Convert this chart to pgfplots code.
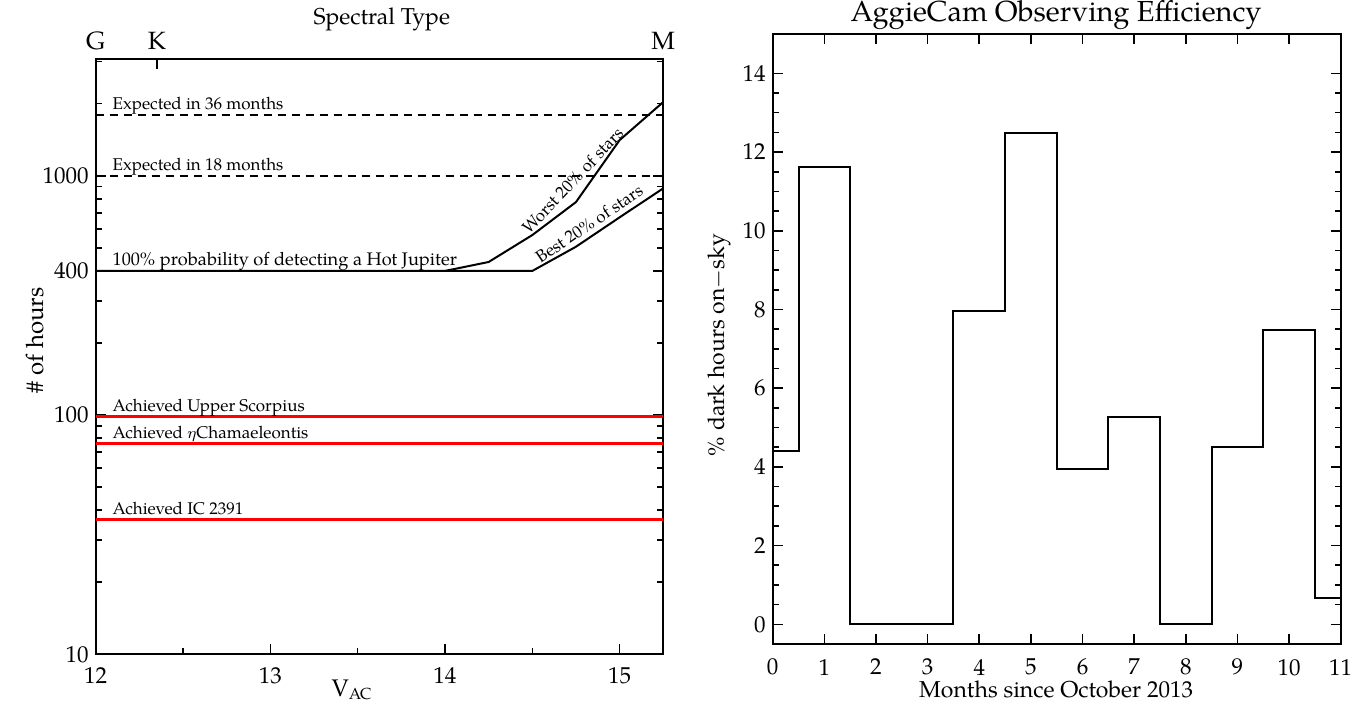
\documentclass[border=0pt]{standalone}
\usepackage{fontspec}
\setmainfont{TeX Gyre Pagella}
\usepackage{pgfplots}
\pgfplotsset{compat=1.18}
\begin{document}
\begin{tikzpicture}[x=1pt,y=1pt]
\path[use as bounding box] (0,0) rectangle (683,357.5);
\pgfplotsset{
  common/.style={
    scale only axis, anchor=south west,
    axis line style={line width=0.9pt},
    tick align=inside,
    every tick/.style={black, line width=0.8pt},
    major tick length=5pt, minor tick length=3pt,
    /pgf/number format/assume math mode=true,
  },
}
% ---------------- left panel ----------------
\begin{axis}[common,
  at={(47.85pt,30.35pt)}, width=283.8pt, height=297.65pt,
  xmin=12, xmax=15.25, ymode=log, ymin=10, ymax=3075,
  xtick={12,13,14,15}, xticklabels={12,13,14,15},
  minor xtick={12.5,13.5,14.5},
  xtick pos=bottom, ytick pos=both,
  ytick={10,100,400,1000}, yticklabels={10,100,400,1000},
  minor ytick={20,30,40,50,60,70,80,90,200,300,500,600,700,800,900,2000,3000},
  tick label style={font=\fontsize{11.5}{13}\selectfont},
  xticklabel style={yshift=-3pt},
  clip=false,
]
\addplot[black, line width=1pt, dash pattern=on 4pt off 3pt] coordinates {(12,1800) (15.25,1800)};
\addplot[black, line width=1pt, dash pattern=on 4pt off 3pt] coordinates {(12,1000) (15.25,1000)};
\addplot[black, line width=1pt] coordinates {(12,400) (14,400) (14.25,436) (14.5,565) (14.75,776) (15,1409) (15.25,2033)};
\addplot[black, line width=1pt] coordinates {(14,400) (14.5,400) (14.75,505) (15,670) (15.25,886)};
\addplot[red, line width=1.5pt] coordinates {(12,98.6) (15.25,98.6)};
\addplot[red, line width=1.5pt] coordinates {(12,76.2) (15.25,76.2)};
\addplot[red, line width=1.5pt] coordinates {(12,36.6) (15.25,36.6)};
\begin{scope}[every node/.style={font=\fontsize{8.5}{10}\selectfont, anchor=base west, inner sep=0pt, yshift=2.5pt}]
\node at (axis cs:12.095,1800) {Expected in 36 months};
\node at (axis cs:12.095,1000) {Expected in 18 months};
\node[font=\fontsize{9.1}{10}\selectfont] at (axis cs:12.095,400) {100\% probability of detecting a Hot Jupiter};
\node at (axis cs:12.095,98.6) {Achieved Upper Scorpius};
\node at (axis cs:12.095,76.2) {Achieved $\eta$Chamaeleontis};
\node at (axis cs:12.095,36.6) {Achieved IC 2391};
\end{scope}
\node[font=\fontsize{8.5}{10}\selectfont, rotate=46.5, inner sep=0pt] at (axis cs:14.73,955) {Worst 20\% of stars};
\node[font=\fontsize{8.5}{10}\selectfont, rotate=34, inner sep=0pt] at (axis cs:14.825,630) {Best 20\% of stars};
\node[font=\fontsize{11.5}{13}\selectfont] at (axis description cs:0.504,1.066) {Spectral Type};
\node[font=\fontsize{12}{14}\selectfont] at (axis description cs:0.4516,-0.060) {V\textsubscript{AC}};
\node[font=\fontsize{12}{14}\selectfont, rotate=90] at (axis description cs:-0.107,0.527) {\# of hours};
\end{axis}
% top axis of left panel (spectral types)
\begin{axis}[common,
  at={(47.85pt,30.35pt)}, width=283.8pt, height=297.65pt,
  xmin=12, xmax=15.25, ymin=0, ymax=1,
  axis x line*=top, axis y line=none,
  xtick={12,12.35,15.25}, xticklabels={G,K,M},
  ytick=\empty,
  tick label style={font=\fontsize{12.5}{14}\selectfont},
  xticklabel style={yshift=1pt},
  major tick length=5pt,
]
\addplot[draw=none] coordinates {(12,0.5)};
\end{axis}
% ---------------- right panel ----------------
\begin{axis}[common,
  at={(386.35pt,35.5pt)}, width=284pt, height=305pt,
  xmin=0, xmax=11, ymin=-0.5, ymax=15,
  xtick={0,1,...,11}, ytick={0,2,...,14},
  minor y tick num=3,
  xtick pos=both, ytick pos=both,
  tick label style={font=\fontsize{11.5}{13}\selectfont},
  xticklabel style={yshift=-4pt},
  clip=false,
]
\addplot[const plot mark mid, black, line width=1pt] coordinates {
  (0,4.4) (1,11.63) (2,0) (3,0) (4,7.97) (5,12.48) (6,3.94) (7,5.27) (8,0) (9,4.51) (10,7.49) (11,0.67)};
\node[font=\fontsize{14.5}{17}\selectfont] at (axis description cs:0.499,1.031) {AggieCam Observing Efficiency};
\node[font=\fontsize{11.5}{13}\selectfont] at (axis description cs:0.499,-0.075) {Months since October 2013};
\node[font=\fontsize{11.5}{13}\selectfont, rotate=90] at (axis description cs:-0.093,0.49) {\% dark hours on$-$sky};
\end{axis}
\end{tikzpicture}
\end{document}
